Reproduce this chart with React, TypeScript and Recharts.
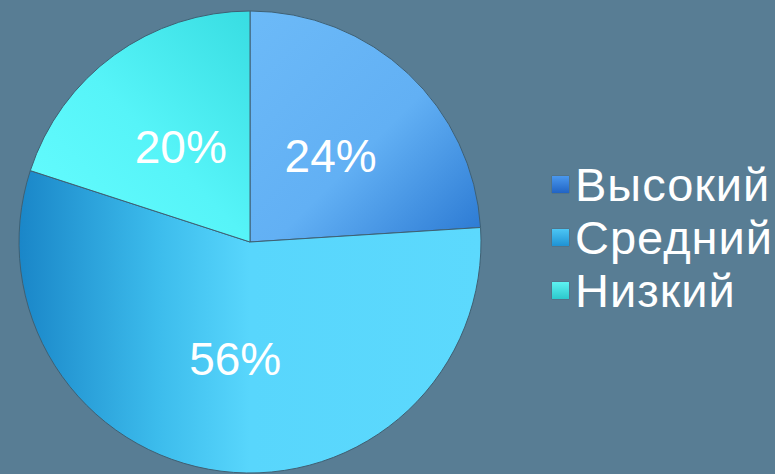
import { PieChart, Pie, Cell } from 'recharts';

const categories = ['Высокий', 'Средний', 'Низкий'];
const shares = [24, 56, 20];
const fills = ['url(#gHigh)', 'url(#gMid)', 'url(#gLow)'];
const swatches = [
  'linear-gradient(#4a98ee, #2164c4)',
  'linear-gradient(#4cc6f4, #1f92d4)',
  'linear-gradient(#5ef2f2, #2cc8cc)',
];

const data = categories.map((name, i) => ({ name, value: shares[i] }));

const RAD = Math.PI / 180;

const renderLabel = (props: any) => {
  const { cx, cy, midAngle, outerRadius, value } = props;
  const r = outerRadius * 0.51;
  const x = cx + r * Math.cos(-midAngle * RAD);
  const y = cy + r * Math.sin(-midAngle * RAD);
  return (
    <text
      x={x}
      y={y}
      fill="#ffffff"
      textAnchor="middle"
      dominantBaseline="central"
      fontSize={46}
      fontFamily="'Liberation Sans', Arial, sans-serif"
    >
      {value}%
    </text>
  );
};

// legend drawn beside the chart so it does not shift the pie
const SideLegend = () => (
  <div style={{ position: 'absolute', left: 552, top: 158, fontFamily: "'Liberation Sans', Arial, sans-serif" }}>
    {categories.map((c, i) => (
      <div
        key={c}
        style={{ display: 'flex', alignItems: 'center', height: 53, color: '#ffffff', fontSize: 47, letterSpacing: 1, whiteSpace: 'nowrap' }}
      >
        <span
          style={{
            display: 'inline-block',
            width: 17,
            height: 17,
            marginRight: 6,
            background: swatches[i],
            boxShadow: '0 0 1px rgba(20,40,60,0.6)',
          }}
        />
        <span>{c}</span>
      </div>
    ))}
  </div>
);

export default function App() {
  return (
    <div style={{ position: 'fixed', left: 0, top: 0, width: 775, height: 474, background: '#587d94', overflow: 'hidden' }}>
      <PieChart width={775} height={474} margin={{ top: 0, right: 0, bottom: 0, left: 0 }}>
        <defs>
          <linearGradient id="gHigh" x1="0" y1="0" x2="1" y2="1">
            <stop offset="0" stopColor="#6cbaf8" />
            <stop offset="0.55" stopColor="#62b0f4" />
            <stop offset="1" stopColor="#2a78d2" />
          </linearGradient>
          <linearGradient id="gMid" x1="0" y1="0" x2="1" y2="0">
            <stop offset="0" stopColor="#1a86c8" />
            <stop offset="0.3" stopColor="#3cbcec" />
            <stop offset="0.5" stopColor="#58d6fc" />
            <stop offset="1" stopColor="#5cd9fd" />
          </linearGradient>
          <linearGradient id="gLow" x1="0" y1="1" x2="1" y2="0">
            <stop offset="0" stopColor="#66fdff" />
            <stop offset="0.5" stopColor="#56f4f8" />
            <stop offset="1" stopColor="#38dde2" />
          </linearGradient>
        </defs>
        <Pie
          data={data}
          dataKey="value"
          nameKey="name"
          cx={250}
          cy={242}
          outerRadius={231}
          startAngle={90}
          endAngle={-270}
          stroke="#3f6073"
          strokeWidth={1}
          label={renderLabel}
          labelLine={false}
          isAnimationActive={false}
        >
          {data.map((d, i) => (
            <Cell key={d.name} fill={fills[i]} />
          ))}
        </Pie>
      </PieChart>
      <SideLegend />
    </div>
  );
}
